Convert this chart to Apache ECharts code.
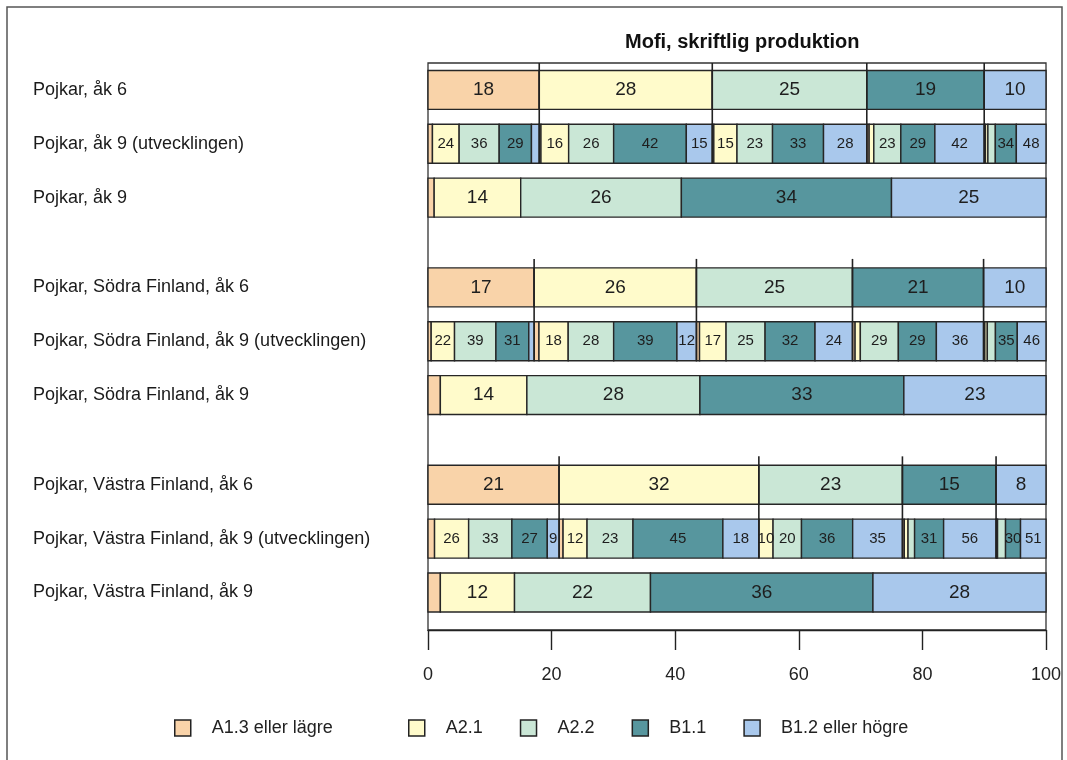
<!DOCTYPE html>
<html>
<head>
<meta charset="utf-8">
<script src="https://cdn.jsdelivr.net/npm/echarts@6/dist/echarts.min.js"></script>
<style>
  html, body { margin: 0; padding: 0; background: #ffffff; }
  #chart { width: 1067px; height: 760px; }
</style>
</head>
<body>
<div id="chart"></div>
<script>
// ---------- DATA ----------
const levels = ['A1.3 eller lägre', 'A2.1', 'A2.2', 'B1.1', 'B1.2 eller högre'];
const rowNames = [
  'Pojkar, åk 6',
  'Pojkar, åk 9 (utvecklingen)',
  'Pojkar, åk 9',
  'Pojkar, Södra Finland, åk 6',
  'Pojkar, Södra Finland, åk 9 (utvecklingen)',
  'Pojkar, Södra Finland, åk 9',
  'Pojkar, Västra Finland, åk 6',
  'Pojkar, Västra Finland, åk 9 (utvecklingen)',
  'Pojkar, Västra Finland, åk 9'
];
const xTickValues = [0, 20, 40, 60, 80, 100];

// Pojkar
const pojkarAk6 = [18, 28, 25, 19, 10];
const pojkarUtv = [
  [4, 24, 36, 29, 7],
  [1, 16, 26, 42, 15],
  [1, 15, 23, 33, 28],
  [2, 4, 23, 29, 42],
  [2, 4, 12, 34, 48]
];
const pojkarAk9 = [1, 14, 26, 34, 25];

// Pojkar, Södra Finland
const sodraAk6 = [17, 26, 25, 21, 10];
const sodraUtv = [
  [3, 22, 39, 31, 5],
  [3, 18, 28, 39, 12],
  [2, 17, 25, 32, 24],
  [2, 4, 29, 29, 36],
  [2, 4, 13, 35, 46]
];
const sodraAk9 = [2, 14, 28, 33, 23];

// Pojkar, Västra Finland
const vastraAk6 = [21, 32, 23, 15, 8];
const vastraUtv = [
  [5, 26, 33, 27, 9],
  [2, 12, 23, 45, 18],
  [0, 10, 20, 36, 35],
  [2, 4, 7, 31, 56],
  [1, 2, 16, 30, 51]
];
const vastraAk9 = [2, 12, 22, 36, 28];

// ---------- STYLE / LAYOUT ----------
const colors = ['#F9D3A9', '#FFFBCB', '#CAE7D6', '#57969E', '#A9C8EC'];
const FONT = 'Liberation Sans, Arial, Helvetica, sans-serif';
const ROW_POS = [0, 6, 12, 22, 28, 34, 44, 50, 56];
const UTV_POS = new Set([6, 28, 50]);
const HALF = 2.17;
const Y_MIN = -3, Y_MAX = 60.18;

const groups = [
  { ak6: pojkarAk6, utv: pojkarUtv, ak9: pojkarAk9 },
  { ak6: sodraAk6, utv: sodraUtv, ak9: sodraAk9 },
  { ak6: vastraAk6, utv: vastraUtv, ak9: vastraAk9 }
];

const levelData = levels.map(() => []);
const connectorData = [];
const sum = a => a.reduce((s, v) => s + v, 0);

function stackRow(values, pos) {
  const s = sum(values);
  let c = 0;
  const bounds = [];
  values.forEach((v, k) => {
    const x0 = c / s * 100, x1 = (c + v) / s * 100;
    levelData[k].push([x0, x1, pos, v]);
    bounds.push([x0, x1]);
    c += v;
  });
  return bounds;
}

groups.forEach((g, gi) => {
  const p6 = ROW_POS[gi * 3], pU = ROW_POS[gi * 3 + 1], p9 = ROW_POS[gi * 3 + 2];
  const bounds = stackRow(g.ak6, p6);
  bounds.forEach((b, k) => {
    const sub = g.utv[k];
    const s = sum(sub);
    let c = 0;
    sub.forEach((v, j) => {
      const x0 = b[0] + c / s * (b[1] - b[0]);
      const x1 = b[0] + (c + v) / s * (b[1] - b[0]);
      levelData[j].push([x0, x1, pU, v]);
      c += v;
    });
    if (k > 0) {
      connectorData.push([b[0], Math.max(Y_MIN, p6 - HALF - 1), pU + HALF]);
    }
  });
  stackRow(g.ak9, p9);
});

const labelMap = {};
ROW_POS.forEach((p, i) => { labelMap[p] = rowNames[i]; });

function renderBar(params, api) {
  const x0 = api.value(0), x1 = api.value(1), y = api.value(2), lab = api.value(3);
  const a = api.coord([x0, y - HALF]);
  const b = api.coord([x1, y + HALF]);
  const small = UTV_POS.has(Math.round(y));
  const w = b[0] - a[0];
  const top = Math.min(a[1], b[1]);
  const h = Math.abs(b[1] - a[1]);
  const show = w >= (small ? 10 : 20);
  const el = {
    type: 'rect',
    shape: { x: a[0], y: top, width: w, height: h },
    style: { fill: api.visual('color'), stroke: '#262626', lineWidth: 1.4 }
  };
  if (show) {
    el.textContent = {
      style: { text: String(lab), fill: '#1e1e1e', fontSize: small ? 15 : 19, fontFamily: FONT }
    };
    el.textConfig = { position: 'inside' };
  }
  return el;
}

function renderConnector(params, api) {
  const a = api.coord([api.value(0), api.value(1)]);
  const b = api.coord([api.value(0), api.value(2)]);
  return {
    type: 'line',
    shape: { x1: a[0], y1: a[1], x2: b[0], y2: b[1] },
    style: { stroke: '#222', lineWidth: 1.6 }
  };
}

const series = levels.map((name, k) => ({
  name: name,
  type: 'custom',
  renderItem: renderBar,
  encode: { x: [0, 1], y: 2 },
  itemStyle: { color: colors[k] },
  color: colors[k],
  data: levelData[k],
  z: 2
}));
series.push({
  name: 'connectors',
  type: 'custom',
  renderItem: renderConnector,
  encode: { x: 0, y: [1, 2] },
  data: connectorData,
  silent: true,
  z: 5
});

const legendCommon = {
  orient: 'horizontal',
  top: 714,
  itemWidth: 16,
  itemHeight: 16,
  icon: 'rect',
  itemGap: 37,
  itemStyle: { borderColor: '#222', borderWidth: 1.5 },
  textStyle: { fontSize: 18, color: '#222', fontFamily: FONT, padding: [0, 0, 0, 16] },
  selectedMode: false
};

const option = {
  animation: false,
  backgroundColor: '#ffffff',
  title: {
    text: 'Mofi, skriftlig produktion',
    left: 620,
    top: 27,
    textStyle: { fontSize: 20, fontWeight: 'bold', color: '#111', fontFamily: FONT }
  },
  grid: {
    left: 428, right: 21, top: 63, bottom: 130,
    show: true, borderColor: '#333', borderWidth: 1.3, backgroundColor: '#fff'
  },
  xAxis: {
    type: 'value', min: 0, max: 100, interval: 20,
    axisLine: { show: true, onZero: false, lineStyle: { color: '#222', width: 1.4 } },
    axisTick: { show: true, inside: false, length: 20, lineStyle: { color: '#222', width: 1.4 } },
    axisLabel: {
      margin: 36, fontSize: 18, color: '#222', fontFamily: FONT,
      formatter: v => (xTickValues.indexOf(Math.round(v)) >= 0 ? String(Math.round(v)) : '')
    },
    splitLine: { show: false }
  },
  yAxis: {
    type: 'value', inverse: true, min: Y_MIN, max: Y_MAX, interval: 1,
    axisLine: { show: false, onZero: false },
    axisTick: { show: false },
    splitLine: { show: false },
    axisLabel: {
      align: 'left', margin: 395, fontSize: 18, color: '#1a1a1a', fontFamily: FONT,
      formatter: v => labelMap[Math.round(v)] && Math.abs(v - Math.round(v)) < 1e-6 ? labelMap[Math.round(v)] : ''
    }
  },
  legend: [
    Object.assign({}, legendCommon, { left: 169, data: [levels[0]] }),
    Object.assign({}, legendCommon, { left: 403, data: levels.slice(1) })
  ],
  graphic: [{
    type: 'rect', silent: true, z: 100,
    shape: { x: 7, y: 7, width: 1055, height: 780 },
    style: { fill: 'none', stroke: '#555', lineWidth: 1.5 }
  }],
  series: series
};

const chart = echarts.init(document.getElementById('chart'), null, { renderer: 'canvas' });
chart.setOption(option);
</script>
</body>
</html>
